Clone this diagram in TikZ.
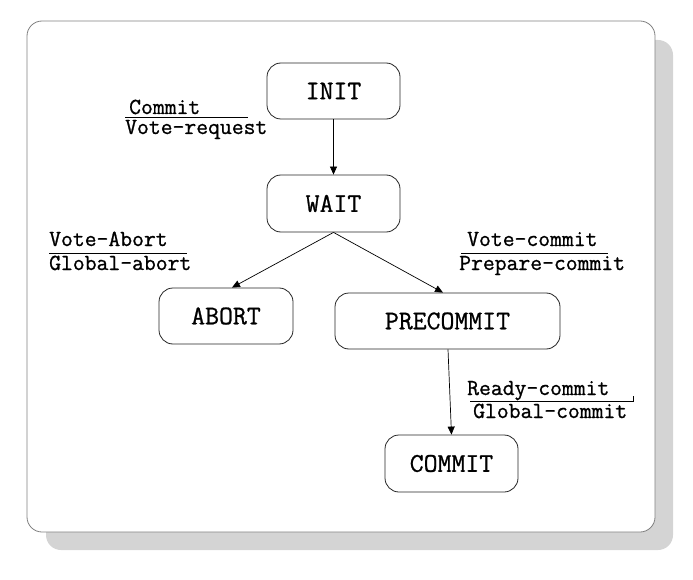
\documentclass[tikz,border=0pt]{standalone}
\usepackage{fontspec}
\newfontfamily\diagfont{Latin Modern Mono}[RawFeature={embolden=0.9}]
\usetikzlibrary{arrows.meta}
\begin{document}
\begin{tikzpicture}[x=1pt,y=-1pt,
  state/.style={draw=black!85,line width=0.8pt,rounded corners=14pt,inner sep=0pt,
    font=\diagfont\fontsize{27}{30}\selectfont,minimum height=56pt},
  lbl/.style={inner sep=0pt,anchor=base west,font=\diagfont\fontsize{23}{26}\selectfont},
  conn/.style={line width=0.7pt,-{Triangle[length=8pt,width=7pt]}},
  fracline/.style={line width=0.7pt}]
\useasboundingbox (0,0) rectangle (693,580);
% frame with shadow
\fill[black!17,rounded corners=15pt] (46,40) rectangle (673,550);
\draw[black!50,fill=white,line width=0.8pt,rounded corners=15pt] (27,21) rectangle (655,532);
% states
\node[state,minimum width=133pt] (init) at (333.5,91) {INIT};
\node[state,minimum width=133pt,minimum height=57pt] (wait) at (333.5,203.5) {WAIT};
\node[state,minimum width=134pt] (abort) at (226,316) {ABORT};
\node[state,minimum width=225pt] (pre) at (447.5,321) {PRECOMMIT};
\node[state,minimum width=133pt,minimum height=57pt] (commit) at (451.5,463.5) {COMMIT};
% connectors
\draw[conn] (init.south) -- (wait.north);
\draw[conn] (wait.south) -- ([xshift=6pt]abort.north);
\draw[conn] (wait.south) -- ([xshift=-4.5pt]pre.north);
\draw[conn] ([xshift=0.5pt]pre.south) -- (commit.north);
% labels
\node[lbl] (l1a) at (129,114) {Commit};
\node[lbl] (l1b) at (125,134) {Vote-request};
\draw[fracline] (125,117) -- (248,117);
\node[lbl] (l2a) at (49,246) {Vote-Abort};
\node[lbl] (l2b) at (49,270) {Global-abort};
\draw[fracline] (49,253) -- (187,253);
\node[lbl] (l3a) at (467,246) {Vote-commit};
\node[lbl] (l3b) at (459,270) {Prepare-commit};
\draw[fracline] (461,253) -- (608,253);
\node[lbl] (l4a) at (467,395) {Ready-commit};
\node[lbl] (l4b) at (473,418) {Global-commit};
\draw[fracline] (470,401) -- (633,401) -- (633,396);
\end{tikzpicture}
\end{document}
